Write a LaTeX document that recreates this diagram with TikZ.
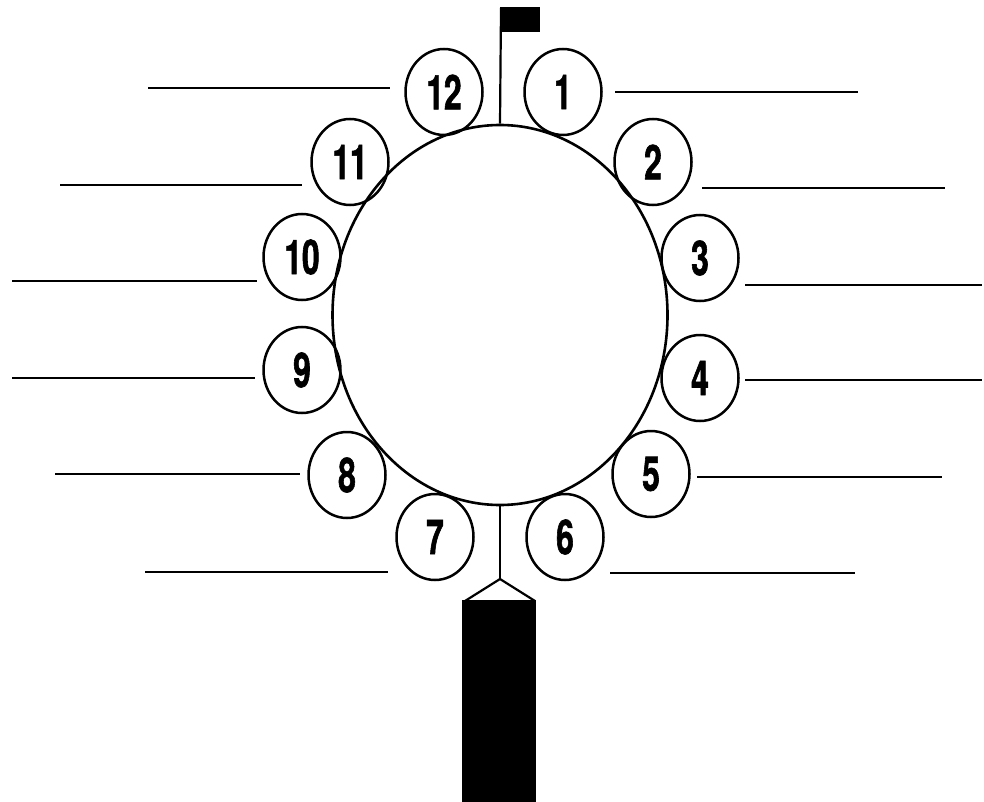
\documentclass[tikz,border=0pt]{standalone}
\usepackage{fontspec}
\setmainfont{TeX Gyre Heros}[FakeStretch=0.66,BoldFeatures={FakeBold=1.2}]
\usetikzlibrary{shapes.geometric}
\begin{document}
\begin{tikzpicture}[x=1pt,y=-1pt,
  num/.style={draw,ellipse,line width=2.5pt,minimum width=77pt,minimum height=86pt,inner sep=0pt,
    font=\fontsize{48}{48}\selectfont\bfseries},
  blank/.style={line width=2pt},
  body/.style={draw,ellipse,line width=2.6pt,minimum width=335pt,minimum height=380pt,inner sep=0pt}]
\useasboundingbox (0,0) rectangle (984,802);
\node[body] (bd) at (500,315) {};
\node[num] (c1) at (563,92) {1};
\node[num] (c2) at (653,162) {2};
\node[num] (c3) at (700,258) {3};
\node[num] (c4) at (700,378) {4};
\node[num] (c5) at (651,474) {5};
\node[num] (c6) at (565,537) {6};
\node[num] (c7) at (435,537) {7};
\node[num] (c8) at (347,475) {8};
\node[num] (c9) at (302,370) {9};
\node[num] (c10) at (302,257) {10};
\node[num] (c11) at (350,162) {11};
\node[num] (c12) at (444,92) {12};
% answer lines
\draw[blank] (148,88) -- (390,88);
\draw[blank] (615,92) -- (858,92);
\draw[blank] (60,185) -- (302,185);
\draw[blank] (702,188) -- (945,188);
\draw[blank] (12,281) -- (257,281);
\draw[blank] (745,285) -- (982,285);
\draw[blank] (12,378) -- (255,378);
\draw[blank] (745,380) -- (982,380);
\draw[blank] (55,474) -- (300,474);
\draw[blank] (697,477) -- (942,477);
\draw[blank] (145,572) -- (388,572);
\draw[blank] (610,573) -- (855,573);
% flag
\coordinate (ftop) at (501,8);
\draw[line width=2.2pt] (bd.north) -- (ftop);
\fill (500,7) rectangle (540,32);
% handle
\coordinate (apex) at (500,579);
\draw[line width=2.2pt] (bd.south) -- (apex);
\draw[line width=2.2pt,line join=miter] (465,601) -- (apex) -- (535,601);
\fill (462,600) rectangle (536,802);
\end{tikzpicture}
\end{document}
